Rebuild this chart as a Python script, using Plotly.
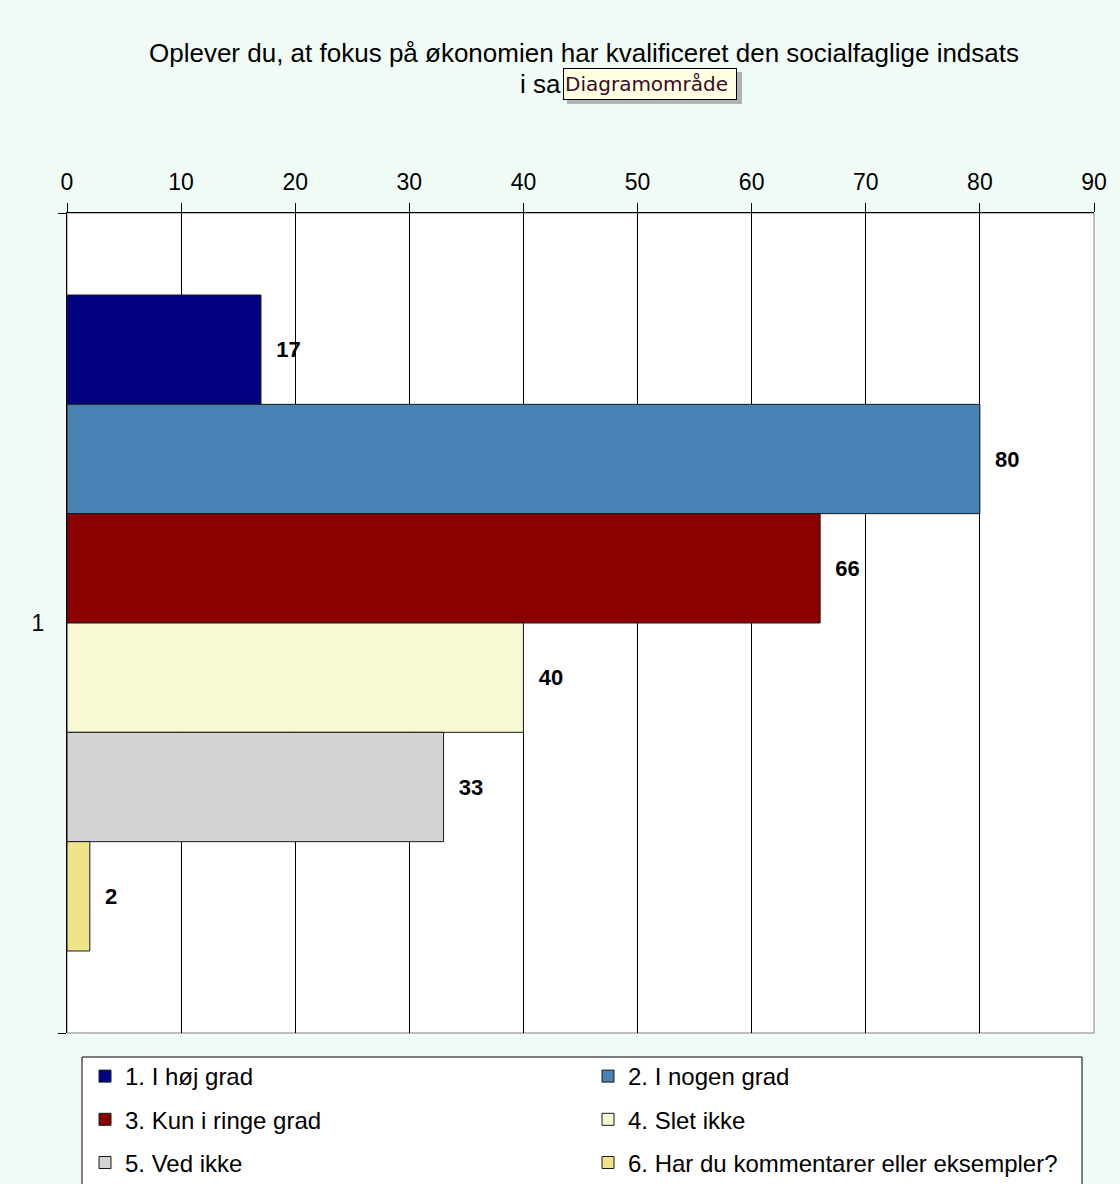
import plotly.graph_objects as go

categories = ["1"]
series_names = [
    "1. I høj grad",
    "2. I nogen grad",
    "3. Kun i ringe grad",
    "4. Slet ikke",
    "5. Ved ikke",
    "6. Har du kommentarer eller eksempler?",
]
values = [17, 80, 66, 40, 33, 2]
colors = ["#000080", "#4682B4", "#8B0000", "#F8F8D4", "#D3D3D3", "#EEE58A"]
x_ticks = [0, 10, 20, 30, 40, 50, 60, 70, 80, 90]

title_line1 = "Oplever du, at fokus på økonomien har kvalificeret den socialfaglige indsats"
title_line2_visible = "i sa"
tooltip_text = "Diagramområde"

FONT = "Liberation Sans, Arial, sans-serif"
W, H = 1120, 1184
L, R, T, B = 67, 26, 213, 151
PW, PH = W - L - R, H - T - B


def px_x(p):
    return (p - L) / PW


def px_y(p):
    return (H - B - p) / PH


fig = go.Figure()
for i, (name, val, col) in enumerate(zip(series_names, values, colors)):
    fig.add_trace(go.Bar(
        y=categories,
        x=[val],
        orientation="h",
        name=name,
        marker=dict(color=col, line=dict(color="#1a1a1a", width=1)),
        text=[val],
        texttemplate="\u00a0\u00a0%{x}",
        textposition="outside",
        textfont=dict(family=FONT, size=22, color="#000000", weight="bold"),
        cliponaxis=False,
        legend="legend" if i % 2 == 0 else "legend2",
        legendgroup=name,
        hoverinfo="skip",
    ))

legend_common = dict(
    orientation="v",
    yanchor="top",
    xanchor="left",
    traceorder="grouped",
    tracegroupgap=9,
    bgcolor="rgba(0,0,0,0)",
    borderwidth=0,
    font=dict(family=FONT, size=24, color="#000000"),
)

fig.update_layout(
    width=W,
    height=H,
    margin=dict(l=L, r=R, t=T, b=B, pad=0, autoexpand=False),
    paper_bgcolor="#F2FCF7",
    plot_bgcolor="#FFFFFF",
    barmode="group",
    bargap=0.2,
    bargroupgap=0,
    showlegend=True,
    title=dict(
        text=title_line1,
        x=584 / W,
        xanchor="center",
        xref="container",
        y=1 - 53 / H,
        yref="container",
        yanchor="middle",
        font=dict(family=FONT, size=26, color="#000000"),
    ),
    legend=dict(x=px_x(85), y=px_y(1054), **legend_common),
    legend2=dict(x=px_x(588), y=px_y(1054), **legend_common),
    xaxis=dict(
        side="top",
        range=[0, 90],
        tickvals=x_ticks,
        ticktext=[str(v) for v in x_ticks],
        ticks="outside",
        ticklen=9,
        tickcolor="#000000",
        tickwidth=1,
        showline=True,
        linecolor="#000000",
        linewidth=1,
        showgrid=True,
        gridcolor="#000000",
        gridwidth=1,
        zeroline=False,
        tickfont=dict(family=FONT, size=23, color="#000000"),
        ticklabelstandoff=4,
        automargin=False,
        fixedrange=True,
    ),
    yaxis=dict(
        type="category",
        autorange="reversed",
        tickson="boundaries",
        ticks="outside",
        ticklen=8,
        tickcolor="#000000",
        showline=True,
        linecolor="#000000",
        linewidth=1,
        showgrid=False,
        zeroline=False,
        tickfont=dict(family=FONT, size=23, color="#000000"),
        ticklabelstandoff=17,
        automargin=False,
        fixedrange=True,
    ),
    shapes=[
        # plot area border (right / bottom)
        dict(type="rect", xref="paper", yref="paper", x0=0, x1=1, y0=0, y1=1,
             line=dict(color="#808080", width=1), fillcolor="rgba(0,0,0,0)", layer="below"),
        # legend box
        dict(type="rect", xref="paper", yref="paper",
             x0=px_x(82), x1=px_x(1082), y0=px_y(1057), y1=px_y(1230),
             line=dict(color="#000000", width=1), fillcolor="#FFFFFF", layer="below"),
        # tooltip shadow
        dict(type="rect", xref="paper", yref="paper",
             x0=px_x(567), x1=px_x(742), y0=px_y(72), y1=px_y(104),
             line=dict(width=0), fillcolor="rgba(120,120,120,0.55)", layer="above"),
    ],
    annotations=[
        dict(text=title_line2_visible, xref="paper", yref="paper",
             x=px_x(563), y=px_y(84), xanchor="right", yanchor="middle",
             showarrow=False, font=dict(family=FONT, size=26, color="#000000")),
        dict(text=tooltip_text, xref="paper", yref="paper",
             x=px_x(563), y=px_y(68), xanchor="left", yanchor="top",
             showarrow=False, width=170, height=28, align="left",
             bgcolor="#FFFFE1", bordercolor="#000000", borderwidth=1, borderpad=1,
             font=dict(family="DejaVu Sans, sans-serif", size=20, color="#3a0a28")),
    ],
)

fig.write_html(
    "out.html",
    config={"displayModeBar": False, "staticPlot": True},
    post_script="document.body.style.margin='0';document.body.style.overflow='hidden';",
)
